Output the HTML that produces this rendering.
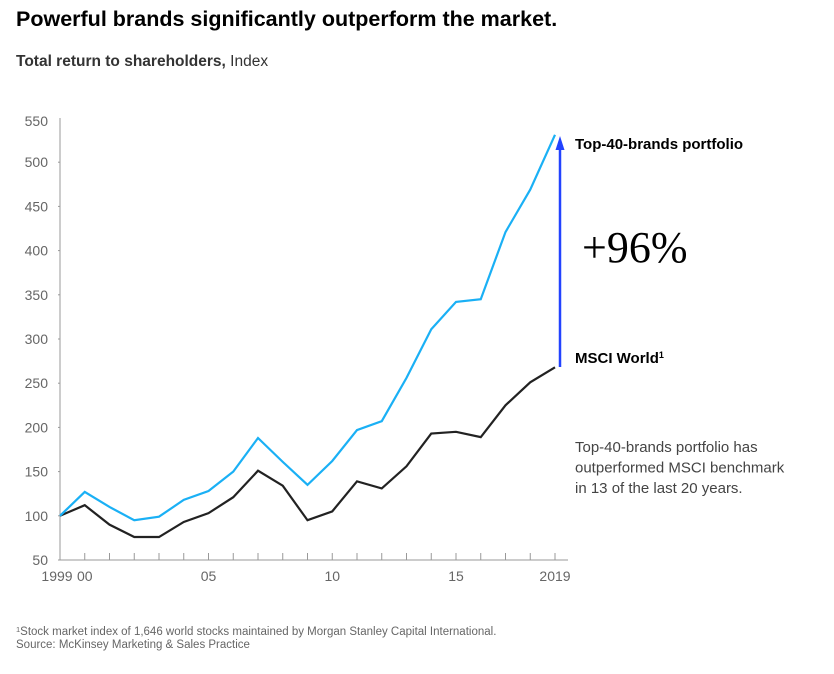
<!DOCTYPE html>
<html><head><meta charset="utf-8"><style>
body{margin:0;background:#fff;width:834px;height:674px;overflow:hidden;font-family:"Liberation Sans",sans-serif;}
</style></head><body>
<svg width="834" height="674" style="position:absolute;left:0;top:0">
<text x="16" y="26" font-size="21.5" font-weight="bold" fill="#000">Powerful brands significantly outperform the market.</text>
<text x="16" y="66" font-size="15.5" fill="#333"><tspan font-weight="bold">Total return to shareholders,</tspan> Index</text>
<g id="axes"></g>
<g id="lines"></g>
<line x1="560" y1="367" x2="560" y2="148" stroke="#2243ff" stroke-width="2.5"/>
<polygon points="560,136 555.5,150 564.5,150" fill="#2243ff"/>
<text x="575" y="149" font-size="15" font-weight="bold" fill="#000">Top-40-brands portfolio</text>
<text x="582" y="262" font-size="44" font-family="Liberation Serif,serif" fill="#000">+96%</text>
<text x="575" y="363" font-size="15" font-weight="bold" fill="#000">MSCI World<tspan font-size="9" dy="-5">1</tspan></text>
<g font-size="15" fill="#444">
<text x="575" y="452">Top-40-brands portfolio has</text>
<text x="575" y="472.5">outperformed MSCI benchmark</text>
<text x="575" y="493">in 13 of the last 20 years.</text>
</g>
<text x="16" y="635" font-size="11.5" fill="#666"><tspan font-size="7.5" dy="-3">1</tspan><tspan dy="3">Stock market index of 1,646 world stocks maintained by Morgan Stanley Capital International.</tspan></text>
<text x="16" y="648" font-size="11.5" fill="#666">Source: McKinsey Marketing &amp; Sales Practice</text>
</svg>
<script>
const years=[1999,2000,2001,2002,2003,2004,2005,2006,2007,2008,2009,2010,2011,2012,2013,2014,2015,2016,2017,2018,2019];
const brands=[100,127,110,95,99,118,128,150,188,161,135,162,197,207,256,311,342,345,421,469,531];
const msci=[100,112,90,76,76,93,103,121,151,134,95,105,139,131,156,193,195,189,225,251,268];
const yTicks=[50,100,150,200,250,300,350,400,450,500];
const xLabels={1999:"1999",2000:"00",2005:"05",2010:"10",2015:"15",2019:"2019"};
const NS="http://www.w3.org/2000/svg";
const X=y=>60+(y-1999)*24.75;
const Y=v=>560-(v-50)*0.884;
const axes=document.getElementById('axes'),lines=document.getElementById('lines');
function mk(tag,attrs,parent){const e=document.createElementNS(NS,tag);for(const k in attrs)e.setAttribute(k,attrs[k]);parent.appendChild(e);return e;}
let l=mk('line',{x1:60,y1:118,x2:60,y2:560,stroke:'#999','stroke-width':1},axes);


l=mk('line',{x1:60,y1:560,x2:568,y2:560,stroke:'#999','stroke-width':1},axes);


let t=mk('text',{x:48,y:126,'font-size':14,fill:'#666','text-anchor':'end'},axes);t.textContent='550';


yTicks.forEach(v=>{
 const tk=mk('line',{x1:58,y1:Y(v),x2:60,y2:Y(v),stroke:'#999'},axes);
 
 
 const tx=mk('text',{x:48,y:Y(v)+5,'font-size':14,fill:'#666','text-anchor':'end'},axes);
 tx.textContent=String(v);
 
 
});
years.forEach(yr=>{
 if(yr>1999){const tk=mk('line',{x1:X(yr),y1:553,x2:X(yr),y2:560,stroke:'#999'},axes);
 
 }
 if(xLabels[yr]){const tx=mk('text',{x:X(yr)+(yr===1999?-3:0),y:581,'font-size':14,fill:'#666','text-anchor':'middle'},axes);
 tx.textContent=xLabels[yr];
 
 }
});
function line(vals,color,name){
 const p=mk('polyline',{points:vals.map((v,i)=>X(years[i])+','+Y(v)).join(' '),fill:'none',stroke:color,'stroke-width':2.2,'stroke-linejoin':'miter'},lines);
 
 
}
line(msci,'#222','msci-world-line');
line(brands,'#1ab0f5','top40-brands-line');
</script>
</body></html>
